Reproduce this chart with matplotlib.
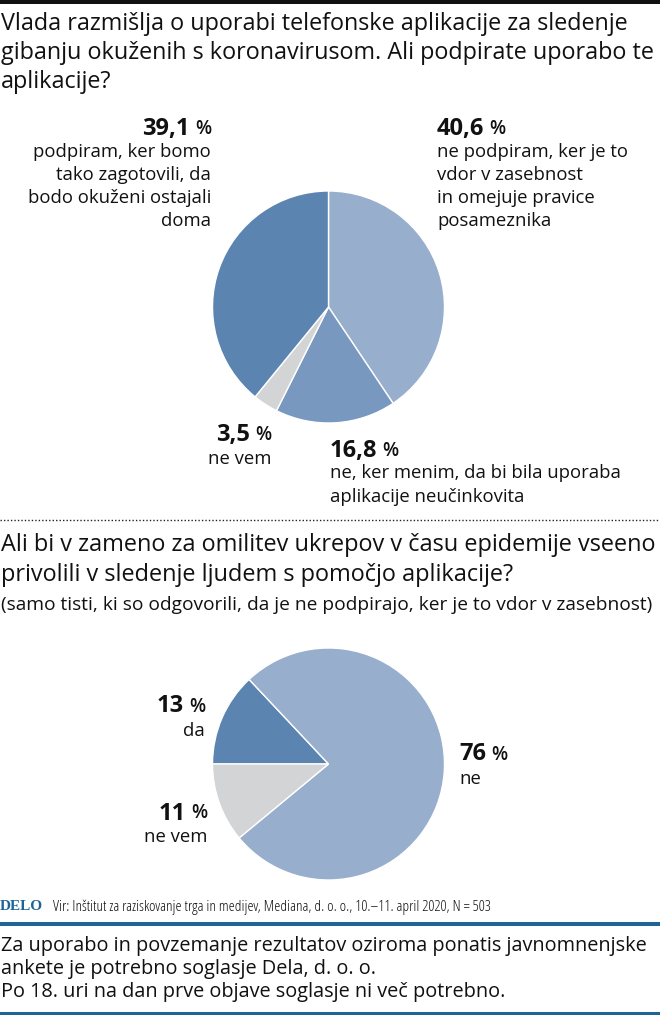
import matplotlib
matplotlib.use('Agg')
import matplotlib.pyplot as plt
from matplotlib.patches import Rectangle

# first question
values_top = [40.6, 16.8, 3.5, 39.1]
colors_top = ['#98aecd', '#7898bf', '#d2d4d5', '#5b84b1']

# second question
values_bottom = [13, 76, 11]
colors_bottom = ['#5b84b1', '#98aecd', '#d2d4d5']

title_top = ['Vlada razmišlja o uporabi telefonske aplikacije za sledenje',
             'gibanju okuženih s koronavirusom. Ali podpirate uporabo te',
             'aplikacije?']
title_bottom = ['Ali bi v zameno za omilitev ukrepov v času epidemije vseeno',
                'privolili v sledenje ljudem s pomočjo aplikacije?']
subtitle_bottom = '(samo tisti, ki so odgovorili, da je ne podpirajo, ker je to vdor v zasebnost)'
source = 'Vir: Inštitut za raziskovanje trga in medijev, Mediana, d. o. o., 10.–11. april 2020, N = 503'
notice = ['Za uporabo in povzemanje rezultatov oziroma ponatis javnomnenjske',
          'ankete je potrebno soglasje Dela, d. o. o.',
          'Po 18. uri na dan prve objave soglasje ni več potrebno.']

W, H = 660, 1017
plt.rcParams['font.family'] = ['Open Sans', 'DejaVu Sans']
fig = plt.figure(figsize=(W / 100, H / 100), dpi=100)

# pixel coordinate overlay for text and rules
bg = fig.add_axes([0, 0, 1, 1])
bg.set_xlim(0, W)
bg.set_ylim(H, 0)
bg.axis('off')


def pie_axes(cx, cy, r):
    ax = fig.add_axes([(cx - r) / W, 1 - (cy + r) / H, 2 * r / W, 2 * r / H])
    return ax


ax1 = pie_axes(328.5, 307, 116)
ax1.pie(values_top, colors=colors_top, startangle=90, counterclock=False, radius=1,
        wedgeprops={'edgecolor': 'white', 'linewidth': 1})
ax1.set_xlim(-1, 1)
ax1.set_ylim(-1, 1)

ax2 = pie_axes(328.5, 764, 116)
ax2.pie(values_bottom, colors=colors_bottom, startangle=180, counterclock=False, radius=1,
        wedgeprops={'edgecolor': 'white', 'linewidth': 1})
ax2.set_xlim(-1, 1)
ax2.set_ylim(-1, 1)


def txt(x, y, s, size=13.3, ha='left', weight='normal', **kw):
    return bg.text(x, y + 1.5, s, fontsize=size, ha=ha, va='center', fontweight=weight,
                   color='#111111', **kw)


def pct(x, y, num, ha='left'):
    # number in bold, percent sign smaller and lighter
    renderer = fig.canvas.get_renderer()
    if ha == 'right':
        sign = txt(x, y, '%', size=13.5, ha='right', weight='semibold')
        w = sign.get_window_extent(renderer).width
        txt(x - w - 5, y, num, size=17, ha='right', weight='bold')
    else:
        n = txt(x, y, num, size=17, weight='bold')
        w = n.get_window_extent(renderer).width
        txt(x + w + 5, y, '%', size=13.5, weight='semibold')


bg.add_patch(Rectangle((0, 0), W, 4, color='#111111', lw=0))
for i, line in enumerate(title_top):
    txt(1, 22 + i * 29.5, line, size=16.85)

# labels first pie
pct(211, 127, '39,1', ha='right')
for i, s in enumerate(['podpiram, ker bomo', 'tako zagotovili, da', 'bodo okuženi ostajali', 'doma']):
    txt(211, 150.5 + i * 23, s, ha='right')
pct(437, 127, '40,6')
for i, s in enumerate(['ne podpiram, ker je to', 'vdor v zasebnost', 'in omejuje pravice', 'posameznika']):
    txt(437, 150.5 + i * 23, s)
pct(271, 434, '3,5', ha='right')
txt(271, 457, 'ne vem', ha='right')
pct(330, 449, '16,8')
txt(330, 472, 'ne, ker menim, da bi bila uporaba')
txt(330, 495, 'aplikacije neučinkovita')

bg.plot([0, W], [519.5, 519.5], color='#222222', lw=1, ls=(0, (1, 1.5)))

for i, line in enumerate(title_bottom):
    txt(1, 543.5 + i * 30, line, size=16.9)
txt(1, 603, subtitle_bottom, size=13.8)

# labels second pie
pct(205, 705, '13', ha='right')
txt(205, 729, 'da', ha='right')
pct(207, 812, '11', ha='right')
txt(207, 835, 'ne vem', ha='right')
pct(459, 753, '76')
txt(459, 777, 'ne')

# source line
bg.text(0, 907, 'DELO', fontsize=11, fontweight='bold', family='Liberation Serif', color='#1f6496', va='center')
txt(53, 906, source, size=11.1, stretch='condensed')

bg.add_patch(Rectangle((0, 921.5), W, 4, color='#1f6496', lw=0))
for i, line in enumerate(notice):
    txt(1, 944 + i * 23.5, line, size=14.35)
bg.add_patch(Rectangle((0, 1012), W, 3, color='#1f6496', lw=0))

fig.savefig('out.png', dpi=100)
